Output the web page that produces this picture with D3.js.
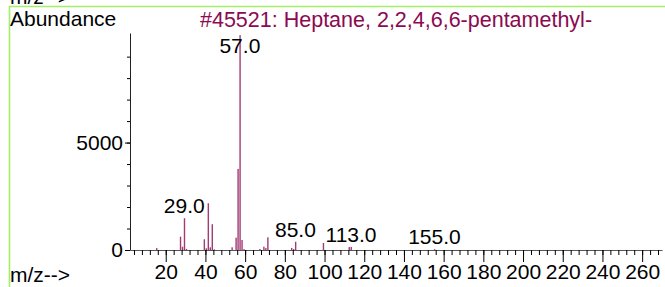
<!DOCTYPE html>
<html>
<head>
<meta charset="utf-8">
<script src="https://cdn.jsdelivr.net/npm/d3@7"></script>
<style>
  body { margin: 0; background: #fff; }
  svg { display: block; font-family: "Liberation Sans", Arial, sans-serif; }
</style>
</head>
<body>
<div id="spec"></div>
<script>
// m/z values and their abundances
var mz =        [15, 27, 28, 29,   30, 39, 40, 41,   42,  43,  44, 53,  55,  56,   57,   58, 59, 67, 69,  70, 71,  83, 84, 85,  99,  112, 113, 155];
var abundance = [90, 620, 150, 1480, 50, 500, 80, 2175, 125, 1200, 30, 125, 575, 3775, 10000, 465, 40, 45, 155, 90, 590, 95, 45, 385, 325, 135, 140, 40];
// peaks that get a label
var labelled = [29, 57, 85, 113, 155];
var xTicks = [20, 40, 60, 80, 100, 120, 140, 160, 180, 200, 220, 240, 260];
var yTicks = [0, 5000];
var title = "#45521: Heptane, 2,2,4,6,6-pentamethyl-";

function init(){
    var w = 665;
    var h = 287;
    var barColor = "#8b0a50";

    var svg = d3.select("#spec")
                .append("svg")
                .attr("width", w)
                .attr("height", h);

    var xscale = d3.scaleLinear()
                    .domain([2, 270])
                    .range([130, 662]);

    var yscale = d3.scaleLinear()
                    .domain([0, 10100])
                    .range([250, 33]);

    // frame lines (green)
    svg.append("line")
        .attr("x1", 9).attr("x2", w)
        .attr("y1", 6.5).attr("y2", 6.5)
        .attr("stroke", "#a3ef66").attr("stroke-width", 1.6);
    svg.append("line")
        .attr("x1", 9.5).attr("x2", 9.5)
        .attr("y1", 6).attr("y2", h)
        .attr("stroke", "#a3ef66").attr("stroke-width", 1.6);

    // axis title from the panel above, cut by the top edge like in the original
    svg.append("text").text("m/z-->")
        .attr("x", 10).attr("y", 4)
        .style("font-size", "21px");

    svg.append("text").text("Abundance")
        .attr("x", 10).attr("y", 26)
        .style("font-size", "21px");

    svg.append("text").text(title)
        .attr("x", 200).attr("y", 26.5)
        .attr("fill", barColor)
        .style("font-size", "21.5px");

    svg.append("text").text("m/z-->")
        .attr("x", 10).attr("y", 282)
        .style("font-size", "21px");

    // minor x ticks
    svg.append("g")
        .attr("transform", "translate(0,250)")
        .call(d3.axisBottom(xscale)
            .tickValues(d3.range(4, 270, 4))
            .tickSize(5)
            .tickSizeOuter(0)
            .tickFormat(""))
        .call(function(g){ g.select(".domain").attr("stroke", "#555"); });

    // major x ticks
    svg.append("g")
        .attr("transform", "translate(0,250)")
        .call(d3.axisBottom(xscale)
            .tickValues(xTicks)
            .tickSize(12)
            .tickSizeOuter(0)
            .tickPadding(2))
        .call(function(g){ g.select(".domain").remove(); })
        .selectAll("text")
        .style("font-size", "21px")
        .attr("fill", "#000");

    // minor y ticks
    svg.append("g")
        .attr("transform", "translate(130,0)")
        .call(d3.axisLeft(yscale)
            .tickValues(d3.range(1000, 10000, 1000))
            .tickSize(3)
            .tickSizeOuter(0)
            .tickFormat(""))
        .call(function(g){ g.select(".domain").attr("stroke", "#222"); });

    svg.append("g")
        .attr("transform", "translate(130,0)")
        .call(d3.axisLeft(yscale)
            .tickValues(yTicks)
            .tickSize(5)
            .tickSizeOuter(0)
            .tickPadding(2)
            .tickFormat(d3.format("d")))
        .call(function(g){ g.select(".domain").remove(); })
        .selectAll("text")
        .style("font-size", "21px")
        .attr("fill", "#000");

    var peaks = mz.map(function(m, i) { return [m, abundance[i]]; });

    svg.selectAll("rect.peak")
        .data(peaks)
        .enter()
        .append("rect")
        .attr("class", "peak")
        .attr("x", function(d) { return xscale(d[0]) + 0.2; })
        .attr("y", function(d) { return yscale(d[1]); })
        .attr("width", 1.4)
        .attr("height", function(d) { return 250 - yscale(d[1]); })
        .attr("fill", barColor)
        .attr("fill-opacity", 0.8);

    svg.selectAll("text.plabel")
        .data(peaks.filter(function(d) { return labelled.indexOf(d[0]) >= 0; }))
        .enter()
        .append("text")
        .attr("class", "plabel")
        .text(function(d) { return d[0].toFixed(1); })
        .attr("x", function(d) { return xscale(d[0]) + 0.7; })
        .attr("y", function(d) {
            return Math.max(yscale(d[1]) - 5, 53);
        })
        .attr("text-anchor", "middle")
        .style("font-size", "21px");
}
window.onload = init;
</script>
</body>
</html>
